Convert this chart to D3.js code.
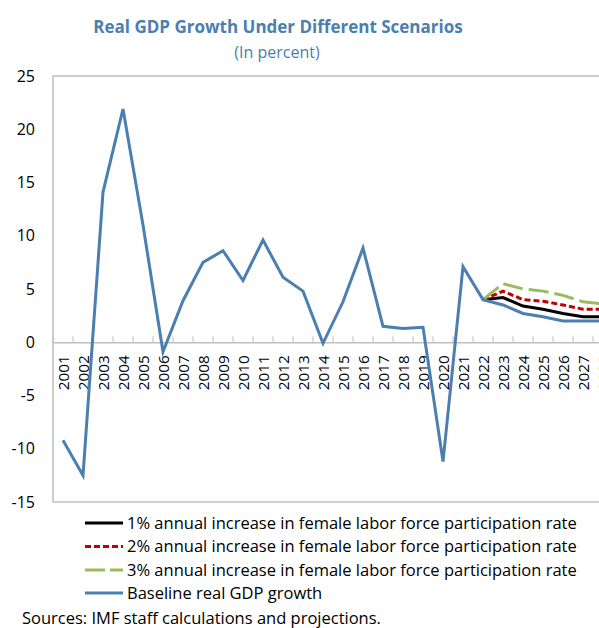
<!DOCTYPE html>
<html>

<head>
  <title>Real GDP Growth</title>
  <script src="https://cdn.jsdelivr.net/npm/d3@7"></script>
  <style>
    body { margin: 0; background: #fff; }
    text { font-family: "Open Sans", "Noto Sans", sans-serif; }
  </style>
</head>

<body>
  <svg width="599" height="628" id="mainsvg"></svg>
  <script>
    const years = d3.range(2001, 2029).map(String);
    const baseline = [-9.2, -12.5, 14.1, 21.9, 11.0, -0.9, 3.9, 7.5, 8.6, 5.8, 9.6, 6.1, 4.8, -0.1,
      3.8, 8.85, 1.5, 1.3, 1.4, -11.2, 7.1, 4.0, 3.5, 2.7, 2.4, 2.0, 2.0, 2.0];
    // scenarios start in 2022
    const scenYears = ['2022', '2023', '2024', '2025', '2026', '2027', '2028'];
    const flfp1 = [4.0, 4.2, 3.4, 3.1, 2.7, 2.4, 2.4];
    const flfp2 = [4.0, 4.8, 4.0, 3.85, 3.5, 3.1, 3.1];
    const flfp3 = [4.0, 5.5, 5.0, 4.8, 4.4, 3.8, 3.6];
    const yTicks = [-15, -10, -5, 0, 5, 10, 15, 20, 25];
    const legendLabels = [
      '1% annual increase in female labor force participation rate',
      '2% annual increase in female labor force participation rate',
      '3% annual increase in female labor force participation rate',
      'Baseline real GDP growth'
    ];

    const svg = d3.select('#mainsvg');
    const plotLeft = 53, plotTop = 76, plotBottom = 502;

    const xScale = d3.scaleBand().domain(years).range([plotLeft, plotLeft + 20 * years.length]);
    const yScale = d3.scaleLinear().domain([-15, 25]).range([plotBottom, plotTop]);
    const xc = d => xScale(d) + xScale.bandwidth() / 2;

    // title
    svg.append('text').attr('x', 278).attr('y', 33).attr('text-anchor', 'middle')
      .attr('font-size', 17).attr('font-weight', 'bold').attr('fill', '#4a7fb0')
      .text('Real GDP Growth Under Different Scenarios');
    svg.append('text').attr('x', 277).attr('y', 58).attr('text-anchor', 'middle')
      .attr('font-size', 16).attr('fill', '#4a7fb0')
      .text('(In percent)');

    // plot frame
    svg.append('rect').attr('x', plotLeft).attr('y', plotTop)
      .attr('width', 20 * years.length).attr('height', plotBottom - plotTop)
      .attr('fill', 'none').attr('stroke', '#bfbfbf').attr('stroke-width', 1.5);

    // y labels
    svg.append('g').selectAll('text').data(yTicks).join('text')
      .attr('x', 35).attr('y', d => yScale(d)).attr('dy', '0.35em')
      .attr('text-anchor', 'end').attr('font-size', 16).attr('fill', '#000')
      .text(d => d);

    // zero axis with category ticks
    const xAxis = d3.axisTop(xScale).tickSize(0).tickFormat('');
    const xg = svg.append('g').attr('transform', `translate(0, ${yScale(0)})`).call(xAxis);
    xg.select('.domain').attr('stroke', '#bfbfbf').attr('stroke-width', 1.5);
    xg.selectAll('.tick').remove();
    xg.selectAll('line.sep').data(years).join('line').attr('class', 'sep')
      .attr('x1', d => xScale(d)).attr('x2', d => xScale(d))
      .attr('y1', -6).attr('y2', 0).attr('stroke', '#bfbfbf').attr('stroke-width', 1);
    xg.selectAll('text.yr').data(years).join('text').attr('class', 'yr')
      .attr('transform', d => `translate(${xc(d) + 6}, 13) rotate(-90)`)
      .attr('text-anchor', 'end').attr('font-size', 15.3).attr('fill', '#000')
      .text(d => d);

    const line = d3.line().x(d => xc(d[0])).y(d => yScale(d[1]));
    const series = [
      { data: flfp1, color: '#000000', dash: null },
      { data: flfp2, color: '#c00000', dash: '6,3' },
      { data: flfp3, color: '#9bbb59', dash: '20,6' }
    ];
    series.forEach(s => {
      svg.append('path').datum(scenYears.map((y, i) => [y, s.data[i]]))
        .attr('fill', 'none').attr('stroke', s.color).attr('stroke-width', 3)
        .attr('stroke-dasharray', s.dash).attr('d', line);
    });
    svg.append('path').datum(years.map((y, i) => [y, baseline[i]]))
      .attr('fill', 'none').attr('stroke', '#4a7fb0').attr('stroke-width', 3)
      .attr('stroke-linejoin', 'miter').attr('d', line);

    // legend
    const legColors = ['#000000', '#c00000', '#9bbb59', '#4a7fb0'];
    const legDash = [null, '6,3', '20,5', null];
    const legY = [523, 546.5, 570, 593];
    const leg = svg.append('g');
    legendLabels.forEach((t, i) => {
      leg.append('line').attr('x1', 85).attr('x2', 123).attr('y1', legY[i]).attr('y2', legY[i])
        .attr('stroke', legColors[i]).attr('stroke-width', 3).attr('stroke-dasharray', legDash[i]);
      leg.append('text').attr('x', 127).attr('y', legY[i]).attr('dy', '0.35em')
        .attr('font-size', 16.5).attr('fill', '#000').text(t);
    });

    svg.append('text').attr('x', 22).attr('y', 618).attr('dy', '0.35em')
      .attr('font-size', 16.5).attr('fill', '#000')
      .text('Sources: IMF staff calculations and projections.');
  </script>
</body>

</html>
